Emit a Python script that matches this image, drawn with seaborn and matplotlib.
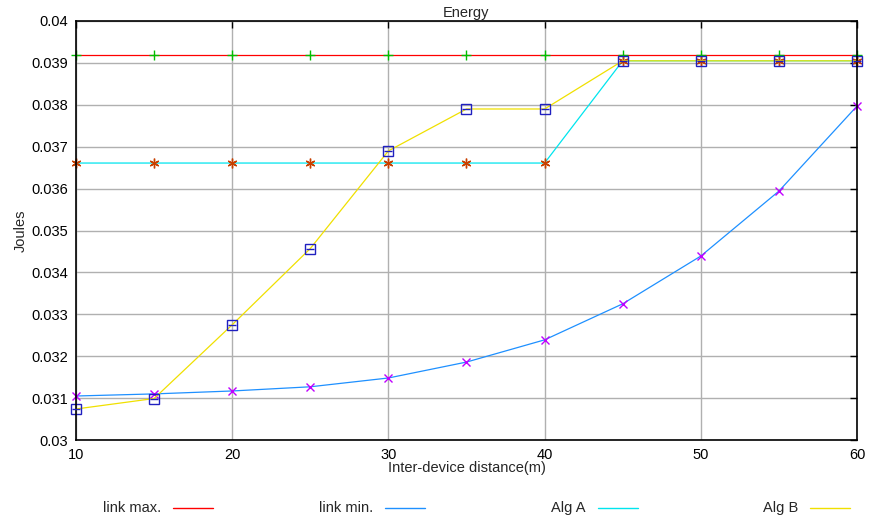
import matplotlib
matplotlib.use("Agg")
import matplotlib.pyplot as plt
import seaborn as sns
import pandas as pd
from matplotlib.lines import Line2D

distance = [10, 15, 20, 25, 30, 35, 40, 45, 50, 55, 60]
link_max = [0.03918] * 11
link_min = [0.03105, 0.03110, 0.03117, 0.03127, 0.03148, 0.03186, 0.03239,
            0.03325, 0.03439, 0.03594, 0.03797]
alg_a = [0.03661, 0.03661, 0.03661, 0.03661, 0.03661, 0.03661, 0.03661,
         0.03905, 0.03905, 0.03905, 0.03905]
alg_b = [0.03074, 0.03099, 0.03275, 0.03457, 0.03690, 0.03790, 0.03790,
         0.03905, 0.03905, 0.03905, 0.03905]
labels = ["link max.", "link min.", "Alg A", "Alg B"]
line_colors = ["#ff0000", "#1e90ff", "#00e5ee", "#f0e000"]

sns.set_style("white")
plt.rcParams['font.family'] = ['Liberation Sans', 'DejaVu Sans']

df = pd.DataFrame({"d": distance, "max": link_max, "min": link_min,
                   "a": alg_a, "b": alg_b})

W, H = 870, 519
fig = plt.figure(figsize=(8.7, 5.19), dpi=100)
ax = fig.add_axes([76 / W, 1 - 440 / H, (857 - 76) / W, (440 - 21) / H])

specs = [
    ("max", line_colors[0], "+", "#00c000", 7),
    ("min", line_colors[1], "x", "#c000ff", 6),
    ("a", line_colors[2], (6, 2, 0), "#c84000", 7),
    ("b", line_colors[3], "s", "#2020c0", 6.5),
]
for col, lc, mk, mc, ms in specs:
    sns.lineplot(data=df, x="d", y=col, ax=ax, color=lc, linewidth=0.9,
                 marker=mk, markersize=ms, markeredgecolor=mc,
                 markerfacecolor="none", markeredgewidth=1.0, legend=False,
                 clip_on=False)
sns.scatterplot(data=df, x="d", y="b", ax=ax, marker="_", s=32,
                color="#2020c0", linewidth=1.0, legend=False, zorder=5,
                clip_on=False)

ax.set_xlim(10, 60)
ax.set_ylim(0.03, 0.04)
ax.set_xticks(range(10, 61, 10))
ax.set_yticks([0.03 + 0.001 * i for i in range(11)])
ax.set_yticklabels(["0.03", "0.031", "0.032", "0.033", "0.034", "0.035",
                    "0.036", "0.037", "0.038", "0.039", "0.04"])
ax.grid(True, color="#b0b0b0", linewidth=1.0)
ax.set_axisbelow(True)
ax.tick_params(direction="in", length=5, width=1, top=True, right=True,
               labelsize=10.5, colors="black", pad=6)
for s in ax.spines.values():
    s.set_color("black")
    s.set_linewidth(1.2)

ax.set_title("Energy", fontsize=10.5, pad=3)
ax.set_xlabel("Inter-device distance(m)", fontsize=10.5, labelpad=-1)
ax.set_ylabel("Joules", fontsize=10.5, labelpad=2)

# legend row: text right-aligned before a short line sample
line_starts = [173, 385, 598, 810]
ly = 1 - 508 / H
for lab, c, x0 in zip(labels, line_colors, line_starts):
    fig.text((x0 - 12) / W, ly, lab, ha="right", va="center", fontsize=10.5)
    fig.add_artist(Line2D([x0 / W, (x0 + 40) / W], [ly, ly], color=c,
                          linewidth=1.0, transform=fig.transFigure))

fig.savefig("out.png", dpi=100)
